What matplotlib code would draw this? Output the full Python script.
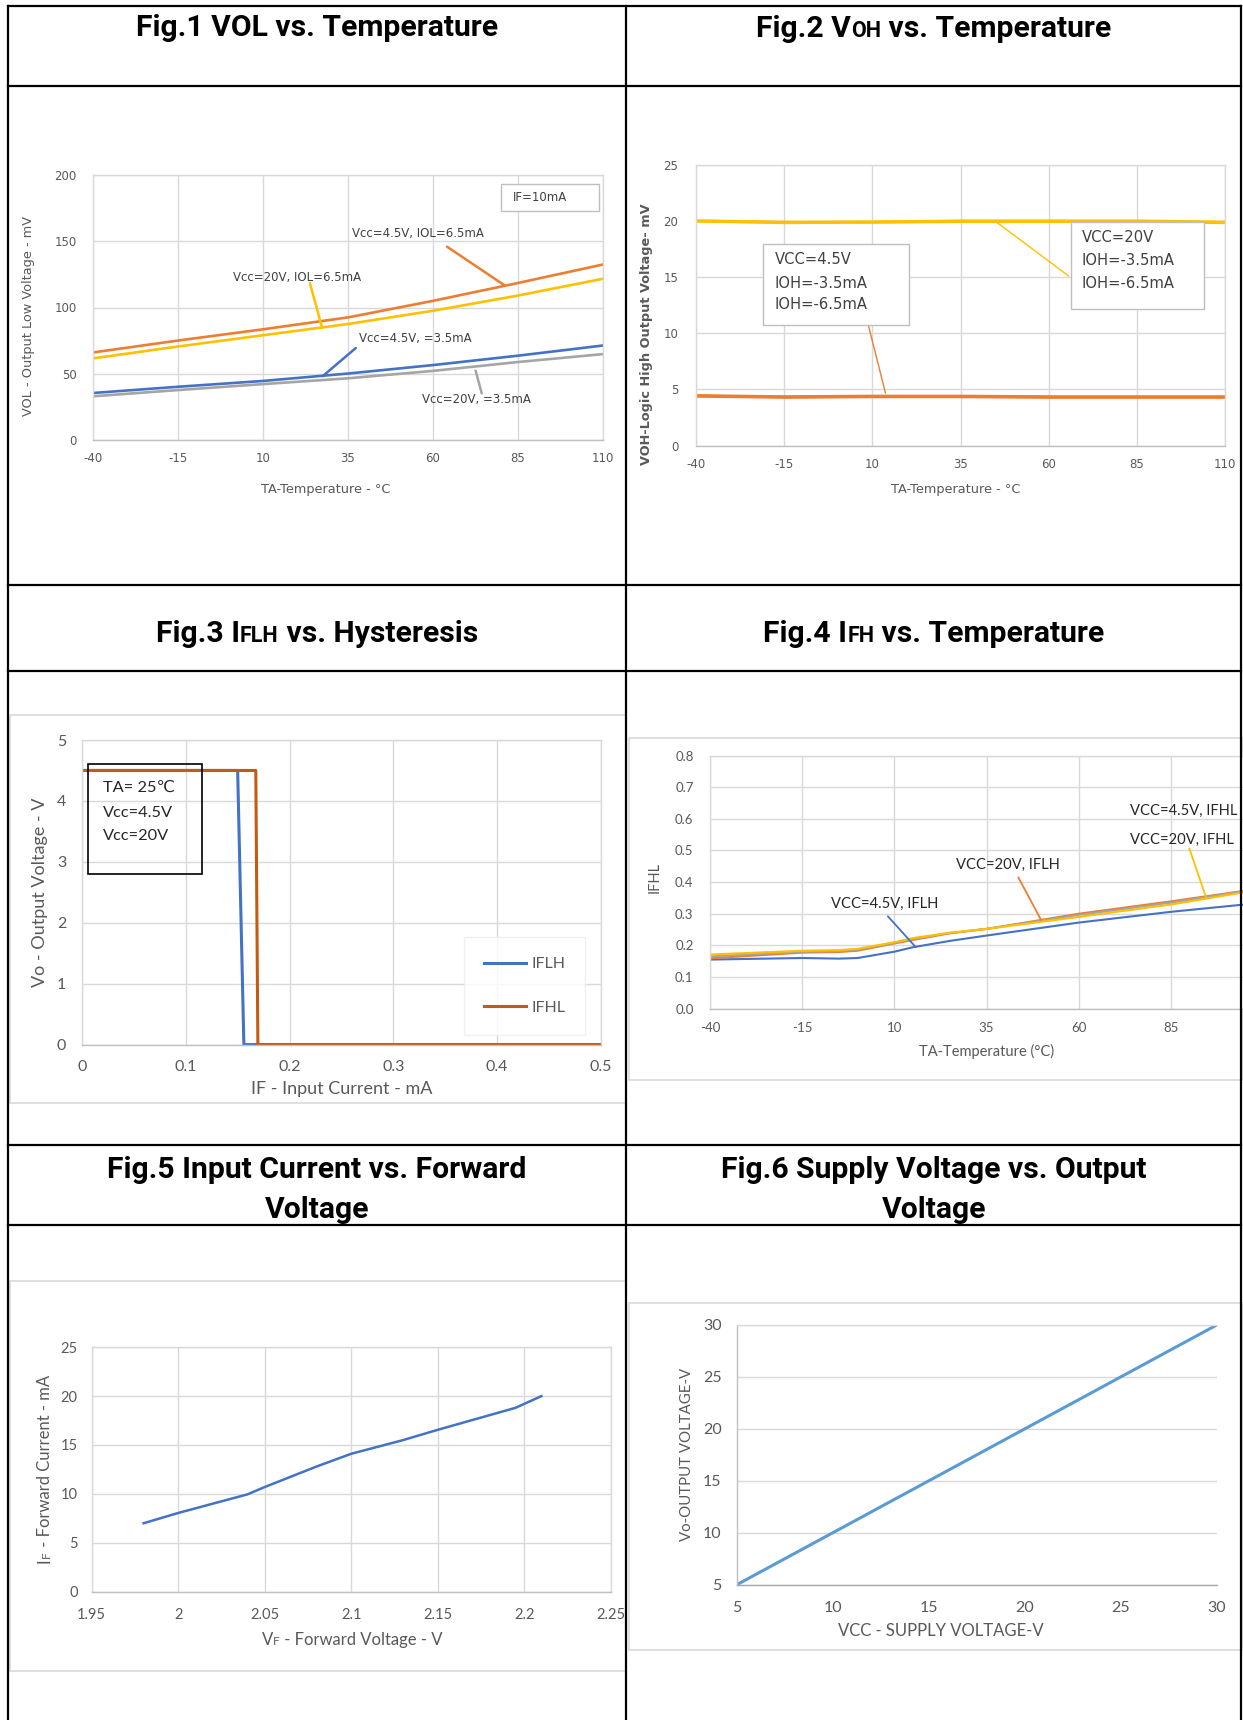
import matplotlib
matplotlib.use('Agg')
import matplotlib.pyplot as plt
from matplotlib.patches import Rectangle

plt.rcParams['axes.unicode_minus'] = False

# ---------------- data ----------------
fig1_temp = [-40, -15, 10, 35, 60, 85, 110]
fig1_vol_45v_65ma = [66, 75, 83.5, 92.5, 105, 118.5, 132.5]
fig1_vol_20v_65ma = [61.5, 70.5, 79, 87.5, 97.5, 109, 121.7]
fig1_vol_45v_35ma = [35.3, 40, 44.4, 50, 56.4, 63.5, 71.2]
fig1_vol_20v_35ma = [32.8, 37.5, 42, 46.4, 52, 58.7, 64.7]
fig1_xticks = [-40, -15, 10, 35, 60, 85, 110]
fig1_yticks = [0, 50, 100, 150, 200]

fig2_temp = [-40, -15, 10, 35, 60, 85, 110]
fig2_voh_20v_35ma = [20.0, 19.9, 19.9, 20.0, 20.0, 20.0, 19.9]
fig2_voh_20v_65ma = [20.0, 19.85, 19.9, 19.95, 19.95, 19.95, 19.85]
fig2_voh_45v_35ma = [4.45, 4.35, 4.4, 4.4, 4.35, 4.35, 4.35]
fig2_voh_45v_65ma = [4.4, 4.3, 4.35, 4.35, 4.3, 4.3, 4.3]
fig2_xticks = [-40, -15, 10, 35, 60, 85, 110]
fig2_yticks = [0, 5, 10, 15, 20, 25]

fig3_iflh_if = [0, 0.15, 0.156, 0.5]
fig3_iflh_vo = [4.5, 4.5, 0, 0]
fig3_ifhl_if = [0, 0.1675, 0.1695, 0.5]
fig3_ifhl_vo = [4.5, 4.5, 0, 0]
fig3_xticks = [0, 0.1, 0.2, 0.3, 0.4, 0.5]
fig3_xticklabels = ['0', '0.1', '0.2', '0.3', '0.4', '0.5']
fig3_yticks = [0, 1, 2, 3, 4, 5]

fig4_temp = [-40, -15, -5, 0, 10, 15, 25, 35, 60, 85, 110]
fig4_45v_iflh = [0.155, 0.160, 0.158, 0.160, 0.180, 0.194, 0.214, 0.231, 0.272, 0.306, 0.335]
fig4_20v_iflh = [0.159, 0.177, 0.179, 0.183, 0.206, 0.217, 0.238, 0.252, 0.300, 0.339, 0.381]
fig4_45v_ifhl = [0.165, 0.180, 0.182, 0.186, 0.208, 0.220, 0.239, 0.252, 0.296, 0.335, 0.380]
fig4_20v_ifhl = [0.171, 0.183, 0.185, 0.189, 0.210, 0.223, 0.240, 0.252, 0.290, 0.329, 0.378]
fig4_xticks = [-40, -15, 10, 35, 60, 85]
fig4_yticks = [0, 0.1, 0.2, 0.3, 0.4, 0.5, 0.6, 0.7, 0.8]
fig4_yticklabels = ['0.0', '0.1', '0.2', '0.3', '0.4', '0.5', '0.6', '0.7', '0.8']

fig5_vf = [1.98, 2.0, 2.04, 2.05, 2.08, 2.10, 2.13, 2.15, 2.175, 2.195, 2.21]
fig5_if = [7.0, 8.05, 9.95, 10.7, 12.8, 14.1, 15.5, 16.55, 17.8, 18.8, 20.0]
fig5_xticks = [1.95, 2.0, 2.05, 2.1, 2.15, 2.2, 2.25]
fig5_xticklabels = ['1.95', '2', '2.05', '2.1', '2.15', '2.2', '2.25']
fig5_yticks = [0, 5, 10, 15, 20, 25]

fig6_vcc = [5, 10, 15, 20, 25, 30]
fig6_vo = [5, 10, 15, 20, 25, 30]
fig6_xticks = [5, 10, 15, 20, 25, 30]
fig6_yticks = [5, 10, 15, 20, 25, 30]

# ---------------- styles ----------------
ORANGE = '#ED7D31'
YELLOW = '#FFC000'
BLUE = '#4472C4'
GRAY = '#A5A5A5'
BROWN = '#C55A11'
LBLUE = '#5B9BD5'
GRID = '#D9D9D9'
TXT = '#595959'
AX = '#BFBFBF'
CG = ['DejaVu Sans']
CAL = ['Lato', 'DejaVu Sans']
TITLE = ['Roboto', 'DejaVu Sans']

W, H = 1243, 1720
fig = plt.figure(figsize=(W / 100, H / 100), dpi=100)
R = fig.canvas.get_renderer()


def px_axes(x0, y0, x1, y1, z=5):
    return fig.add_axes([x0 / W, 1 - y1 / H, (x1 - x0) / W, (y1 - y0) / H], zorder=z)


bg = px_axes(0, 0, W, H, z=0)
bg.set_xlim(0, W); bg.set_ylim(H, 0); bg.axis('off')
top = px_axes(0, 0, W, H, z=20)
top.set_xlim(0, W); top.set_ylim(H, 0); top.axis('off')


def style(ax, family, fs, xpad, ypad, gridx=True):
    ax.set_facecolor('white')
    for s in ax.spines.values():
        s.set_color(GRID); s.set_linewidth(1.0)
    ax.spines['bottom'].set_color(AX)
    ax.grid(True, axis='y', color=GRID, lw=1.0)
    if gridx:
        ax.grid(True, axis='x', color=GRID, lw=1.0)
    ax.set_axisbelow(True)
    ax.tick_params(length=0, labelcolor=TXT, labelsize=fs)
    ax.tick_params(axis='x', pad=xpad)
    ax.tick_params(axis='y', pad=ypad)
    for lab in ax.get_xticklabels() + ax.get_yticklabels():
        lab.set_family(family)


def labels(ax, xl, xc, yl, yc, family, fs, color=TXT, weight='normal', yfs=None):
    if xl:
        ax.set_xlabel(xl, family=family, fontsize=fs, color=color)
        ax.xaxis.set_label_coords(xc[0], xc[1], transform=top.transData)
        ax.xaxis.label.set_va('center')
    if yl:
        ax.set_ylabel(yl, family=family, fontsize=yfs or fs, color=color, fontweight=weight)
        ax.yaxis.set_label_coords(yc[0], yc[1], transform=top.transData)
        ax.yaxis.label.set_va('center')


def measure(s, sz, family, weight):
    t = top.text(0, 0, '|' + s + '|', fontsize=sz, family=family, fontweight=weight)
    t2 = top.text(0, 0, '||', fontsize=sz, family=family, fontweight=weight)
    w = t.get_window_extent(R).width - t2.get_window_extent(R).width
    t.remove(); t2.remove()
    return w


def mixed(center, base, pieces, family, weight='normal', color='black', rot=0):
    """center: position along the text direction; base: baseline coordinate across it."""
    lens = [measure(s, sz, family, weight) for s, sz in pieces]
    total = sum(lens)
    pos = center - total / 2 if rot == 0 else center + total / 2
    for (s, sz), l in zip(pieces, lens):
        xy = (pos, base) if rot == 0 else (base, pos)
        top.text(xy[0], xy[1], s, fontsize=sz, family=family, fontweight=weight,
                 color=color, rotation=rot, rotation_mode='anchor', ha='left', va='baseline')
        pos = pos + l if rot == 0 else pos - l


# ---------------- table ----------------
for y in [5.5, 85.6, 584.7, 671.4, 1145.3, 1225.4]:
    top.plot([7.7, 1241.5], [y, y], color='black', lw=1.6, solid_capstyle='projecting')
for x in [7.7, 626.0, 1241.5]:
    top.plot([x, x], [5.5, 1720], color='black', lw=1.6, solid_capstyle='projecting')

TS, SC = 21.7, 15.5
mixed(317, 35.5, [('Fig.1 VOL vs. Temperature', TS)], TITLE, 'bold')
mixed(934, 37.0, [('Fig.2 V', TS), ('OH', SC), (' vs. Temperature', TS)], TITLE, 'bold')
mixed(317, 641.5, [('Fig.3 I', TS), ('FLH', SC), (' vs. Hysteresis', TS)], TITLE, 'bold')
mixed(934, 641.5, [('Fig.4 I', TS), ('FH', SC), (' vs. Temperature', TS)], TITLE, 'bold')
mixed(317, 1178.5, [('Fig.5 Input Current vs. Forward', TS)], TITLE, 'bold')
mixed(317, 1217.5, [('Voltage', TS)], TITLE, 'bold')
mixed(934, 1178.5, [('Fig.6 Supply Voltage vs. Output', TS)], TITLE, 'bold')
mixed(934, 1217.5, [('Voltage', TS)], TITLE, 'bold')

# chart outer frames
for (x0, y0, x1, y1) in [(10.4, 715, 626, 1102.7), (629.5, 738, 1243, 1079.8),
                         (10.4, 1280.6, 626, 1670.9), (629.5, 1302.8, 1243, 1649.8)]:
    bg.add_patch(Rectangle((x0, y0), x1 - x0, y1 - y0, fc='white', ec=GRID, lw=1.2))

# ---------------- Fig 1 ----------------
ax1 = px_axes(93.3, 175.4, 602.6, 439.6)
ax1.plot(fig1_temp, fig1_vol_20v_35ma, color=GRAY, lw=1.9)
ax1.plot(fig1_temp, fig1_vol_45v_35ma, color=BLUE, lw=1.9)
ax1.plot(fig1_temp, fig1_vol_20v_65ma, color=YELLOW, lw=1.9)
ax1.plot(fig1_temp, fig1_vol_45v_65ma, color=ORANGE, lw=1.9)
ax1.set_xlim(-40, 110); ax1.set_ylim(0, 200)
ax1.set_xticks(fig1_xticks); ax1.set_yticks(fig1_yticks)
style(ax1, CG, 8.5, 9, 12)
labels(ax1, 'TA-Temperature - °C', (325.4, 489.3), 'VOL - Output Low Voltage - mV', (28.7, 316), CG, 9.3)
for txt, pos, a, b, c in [
        ('Vcc=4.5V, IOL=6.5mA', (55.5, 156.2), (64.2, 146), (81, 117), ORANGE),
        ('Vcc=20V, IOL=6.5mA', (20.0, 122.5), (23.8, 118.5), (27.4, 84.5), YELLOW),
        ('Vcc=4.5V, =3.5mA', (54.9, 76.9), (37.3, 69.3), (27.6, 48.1), BLUE),
        ('Vcc=20V, =3.5mA', (72.9, 30.7), (72.6, 52.2), (74.4, 35), GRAY)]:
    ax1.text(pos[0], pos[1], txt, family=CG, fontsize=8.5, color='#404040', ha='center', va='center')
    ax1.annotate('', xy=b, xytext=a, arrowprops=dict(arrowstyle='-', color=c, lw=1.8,
                                                     shrinkA=0, shrinkB=0))
top.add_patch(Rectangle((501, 183.7), 98, 27.3, fc='white', ec=AX, lw=1.0))
top.text(513, 197.3, 'IF=10mA', family=CG, fontsize=8.5, color='#404040', va='center')

# ---------------- Fig 2 ----------------
ax2 = px_axes(696.3, 164.8, 1224.7, 445.6)
ax2.plot(fig2_temp, fig2_voh_20v_65ma, color=YELLOW, lw=2.2)
ax2.plot(fig2_temp, fig2_voh_20v_35ma, color=YELLOW, lw=2.2)
ax2.plot(fig2_temp, fig2_voh_45v_65ma, color=ORANGE, lw=2.2)
ax2.plot(fig2_temp, fig2_voh_45v_35ma, color=ORANGE, lw=2.2)
ax2.set_xlim(-40, 110); ax2.set_ylim(0, 25)
ax2.set_xticks(fig2_xticks); ax2.set_yticks(fig2_yticks)
style(ax2, CG, 8.5, 9, 13)
labels(ax2, 'TA-Temperature - °C', (955.7, 489.3), 'VOH-Logic High Output Voltage- mV', (647, 334), CG, 9.3,
       weight='bold')
ax2.annotate('', xy=(13.7, 4.68), xytext=(8.9, 10.65),
             arrowprops=dict(arrowstyle='-', color=ORANGE, lw=1.0, shrinkA=0, shrinkB=0))
ax2.annotate('', xy=(65.7, 15.1), xytext=(45.2, 19.9),
             arrowprops=dict(arrowstyle='-', color=YELLOW, lw=1.0, shrinkA=0, shrinkB=0))
top.add_patch(Rectangle((763, 244), 146, 81, fc='white', ec=AX, lw=1.0))
for yy, s in zip([259.7, 283, 304.9], ['VCC=4.5V', 'IOH=-3.5mA', 'IOH=-6.5mA']):
    top.text(775, yy, s, family=CG, fontsize=10.6, color='#404040', va='center')
top.add_patch(Rectangle((1071.3, 222), 132.7, 86.6, fc='white', ec=AX, lw=1.0))
for yy, s in zip([237.9, 260.8, 283], ['VCC=20V', 'IOH=-3.5mA', 'IOH=-6.5mA']):
    top.text(1082, yy, s, family=CG, fontsize=10.6, color='#404040', va='center')

# ---------------- Fig 3 ----------------
ax3 = px_axes(82.1, 740, 600.6, 1044.6)
ax3.plot(fig3_iflh_if, fig3_iflh_vo, color=BLUE, lw=2.2, label='IFLH')
ax3.plot(fig3_ifhl_if, fig3_ifhl_vo, color=BROWN, lw=2.2, label='IFHL')
ax3.set_xlim(0, 0.5); ax3.set_ylim(0, 5)
ax3.set_xticks(fig3_xticks, fig3_xticklabels); ax3.set_yticks(fig3_yticks)
style(ax3, CAL, 11.5, 11, 11.5)
labels(ax3, 'IF - Input Current - mA', (341.4, 1089), 'Vo - Output Voltage - V', (39.9, 892.6), CAL, 13)
leg = ax3.legend(loc='upper left', bbox_to_anchor=(464.3 / W, 1 - 937 / H), bbox_transform=fig.transFigure,
                 borderaxespad=0, handlelength=2.6, handletextpad=0.35, labelspacing=1.85,
                 borderpad=1.25, fancybox=False, prop={'family': CAL, 'size': 11.5})
leg.get_frame().set_edgecolor('#EDEDED')
leg.get_frame().set_linewidth(1.0)
for t in leg.get_texts():
    t.set_color(TXT)
top.add_patch(Rectangle((87.7, 763.6), 114, 110.8, fc='none', ec='black', lw=1.2))
for yy, s in zip([787.9, 813, 835.5], ['TA= 25℃', 'Vcc=4.5V', 'Vcc=20V']):
    top.text(102.8, yy, s, family=CAL, fontsize=11.8, color='#262626', va='center')

# ---------------- Fig 4 ----------------
ax4 = px_axes(710.2, 755.6, 1263, 1008.6)
ax4.plot(fig4_temp, fig4_45v_iflh, color=BLUE, lw=1.5)
ax4.plot(fig4_temp, fig4_20v_iflh, color=ORANGE, lw=1.5)
ax4.plot(fig4_temp, fig4_45v_ifhl, color=GRAY, lw=1.5)
ax4.plot(fig4_temp, fig4_20v_ifhl, color=YELLOW, lw=1.5)
ax4.set_xlim(-40, 110); ax4.set_ylim(0, 0.8)
ax4.set_xticks(fig4_xticks); ax4.set_yticks(fig4_yticks, fig4_yticklabels)
style(ax4, CAL, 9.5, 10, 12)
labels(ax4, 'TA-Temperature (°C)', (986.3, 1051.5), 'IFHL', (655, 877.7), CAL, 10.5)
for txt, pos, ha in [('VCC=4.5V, IFLH', (7.25, 0.33), 'center'), ('VCC=20V, IFLH', (40.8, 0.453), 'center'),
                     ('VCC=4.5V, IFHL', (74, 0.624), 'left'), ('VCC=20V, IFHL', (74, 0.534), 'left')]:
    ax4.text(pos[0], pos[1], txt, family=CAL, fontsize=10.6, color='#262626', ha=ha, va='center')
for a, b, c in [((8.2, 0.292), (15.8, 0.194), BLUE), ((43.6, 0.415), (49.8, 0.28), ORANGE),
                ((90, 0.507), (94.5, 0.353), YELLOW)]:
    ax4.annotate('', xy=b, xytext=a, arrowprops=dict(arrowstyle='-', color=c, lw=1.3, shrinkA=0, shrinkB=0))

# ---------------- Fig 5 ----------------
ax5 = px_axes(91.7, 1347.2, 610.6, 1591.7)
ax5.plot(fig5_vf, fig5_if, color=BLUE, lw=1.8)
ax5.set_xlim(1.95, 2.25); ax5.set_ylim(0, 25)
ax5.set_xticks(fig5_xticks, fig5_xticklabels); ax5.set_yticks(fig5_yticks)
style(ax5, CAL, 10.5, 11.5, 10)
mixed(352, 1645, [('V', 12), ('F', 8.5), (' - Forward Voltage - V', 12)], CAL, color=TXT)
mixed(1469, 50, [('I', 12), ('F', 8.5), (' - Forward Current - mA', 12)], CAL, color=TXT, rot=90)

# ---------------- Fig 6 ----------------
ax6 = px_axes(736.8, 1325, 1216.7, 1584.7)
ax6.plot(fig6_vcc, fig6_vo, color=LBLUE, lw=2.2)
ax6.set_xlim(5, 30); ax6.set_ylim(5, 30)
ax6.set_xticks(fig6_xticks); ax6.set_yticks(fig6_yticks)
style(ax6, CAL, 11.5, 12, 11, gridx=False)
ax6.spines['right'].set_visible(False)
ax6.spines['left'].set_color(AX)
ax6.spines['bottom'].set_color('#A6A6A6')
labels(ax6, 'VCC - SUPPLY VOLTAGE-V', (941, 1631.3), 'Vo-OUTPUT VOLTAGE-V', (687.5, 1454.5), CAL, 12,
       yfs=10.8)

fig.savefig('out.png', dpi=100)
